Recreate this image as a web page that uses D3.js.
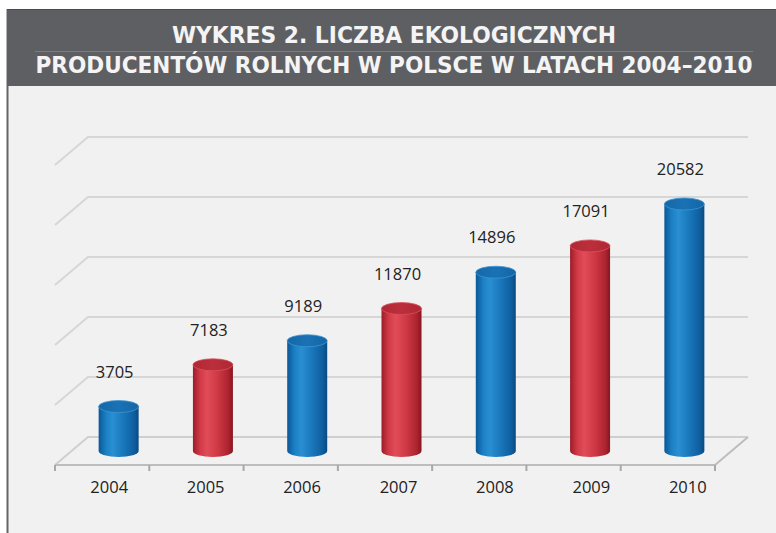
<!DOCTYPE html>
<html>
<head>
<meta charset="utf-8">
<script src="https://cdn.jsdelivr.net/npm/d3@7"></script>
<style>
  body { margin: 0; background: #fff; }
  svg { display: block; }
</style>
</head>
<body>
<div class="chart"></div>
<script>
// data
const years = ["2004", "2005", "2006", "2007", "2008", "2009", "2010"]
const producers = [3705, 7183, 9189, 11870, 14896, 17091, 20582]
const yTicks = [0, 5000, 10000, 15000, 20000, 25000]
const titleLines = ["WYKRES 2. LICZBA EKOLOGICZNYCH", "PRODUCENTÓW ROLNYCH W POLSCE W LATACH 2004–2010"]

const width = 776
const height = 533

const svg = d3.select('.chart')
  .append('svg')
  .attr('width', width)
  .attr('height', height)

// gradients for the cylinders
const defs = svg.append('defs')
function cylGradient(id, stops) {
  const g = defs.append('linearGradient').attr('id', id)
    .attr('x1', 0).attr('x2', 1).attr('y1', 0).attr('y2', 0)
  stops.forEach(s => g.append('stop').attr('offset', s[0]).attr('stop-color', s[1]))
}
cylGradient('blueBody', [[0, '#0a5796'], [0.18, '#1b7fc4'], [0.35, '#2a8fd2'], [0.6, '#1a79bd'], [0.88, '#0f5f9f'], [1, '#0a4a82']])
cylGradient('redBody', [[0, '#9c1c28'], [0.18, '#d23a47'], [0.35, '#e04c58'], [0.6, '#d03a46'], [0.88, '#ad2430'], [1, '#861620']])
cylGradient('blueTop', [[0, '#1468a8'], [0.5, '#1a72b4'], [1, '#1466a6']])
cylGradient('redTop', [[0, '#b02834'], [0.5, '#bb2f3b'], [1, '#ae2833']])

// frame + title banner
svg.append('rect')
  .attr('x', 7).attr('y', 9)
  .attr('width', width - 7).attr('height', height - 9)
  .attr('fill', '#f1f1f1')
svg.append('line')
  .attr('x1', 7.5).attr('x2', 7.5).attr('y1', 9).attr('y2', height)
  .attr('stroke', '#666666').attr('stroke-width', 2)
svg.append('rect')
  .attr('x', 7).attr('y', 9)
  .attr('width', width - 7).attr('height', 77)
  .attr('fill', '#5e5f63')
svg.append('line')
  .attr('x1', 7).attr('x2', width).attr('y1', 9.5).attr('y2', 9.5)
  .attr('stroke', '#4a4b4e').attr('stroke-width', 1)
svg.append('line')
  .attr('x1', 35).attr('x2', 753).attr('y1', 51.5).attr('y2', 51.5)
  .attr('stroke', '#7c7d81').attr('stroke-width', 1)

const titleFont = '"Liberation Sans Narrow", "DejaVu Sans Condensed", "Roboto Condensed", sans-serif'
svg.selectAll('.title')
  .data(titleLines)
  .join('text')
    .attr('class', 'title')
    .attr('x', 394)
    .attr('y', (d, i) => 43 + i * 30)
    .attr('text-anchor', 'middle')
    .attr('fill', '#f4f4f4')
    .attr('font-family', titleFont)
    .attr('font-weight', 'bold')
    .attr('font-size', '23px')
    .attr('textLength', (d, i) => i === 0 ? 444 : 717)
    .attr('lengthAdjust', 'spacingAndGlyphs')
    .text(d => d)

// 3D floor geometry
const x0 = 55, x1 = 715
const yFront = 465
const depthX = 33, depthY = 28
const yBack = yFront - depthY
const yMid = yFront - depthY / 2

const x = d3.scaleBand().domain(years).range([x0, x1])
const y = d3.scaleLinear().domain([0, 25000]).range([0, 300])
const xLabel = d3.scaleBand().domain(years).range([61, 736])

const grid = svg.append('g')
  .attr('fill', 'none')
  .attr('stroke', '#d4d4d4')
  .attr('stroke-width', 2)

grid.selectAll('path')
  .data(yTicks)
  .join('path')
    .attr('stroke', d => d === 0 ? '#cfcfcf' : '#d6d6d6')
    .attr('d', d => {
      const yb = yBack - y(d)
      const yf = yFront - y(d)
      return `M${x0},${yf}L${x0 + depthX},${yb}L${x1 + depthX},${yb}`
    })

// floor front and right edges
svg.append('path')
  .attr('d', `M${x0},${yFront}L${x1},${yFront}L${x1 + depthX},${yBack}`)
  .attr('fill', 'none')
  .attr('stroke', '#bdbdbd')
  .attr('stroke-width', 2)

// ticks
svg.append('g')
  .selectAll('line')
  .data([...years.map(d => x(d)), x1])
  .join('line')
    .attr('x1', d => d).attr('x2', d => d)
    .attr('y1', yFront).attr('y2', yFront + 6)
    .attr('stroke', '#a8a8a8')
    .attr('stroke-width', 2)

const textFont = '"Open Sans", "Noto Sans", sans-serif'

// year labels
svg.append('g')
  .selectAll('text')
  .data(years)
  .join('text')
    .attr('x', d => xLabel(d) + xLabel.bandwidth() / 2)
    .attr('y', 493)
    .attr('text-anchor', 'middle')
    .attr('font-family', textFont)
    .attr('font-size', '16.5px')
    .attr('fill', '#222')
    .text(d => d)

// cylinders
const rx = 20, ry = 6
const cx = d => x(d) + x.bandwidth() / 2 + depthX / 2

const bars = svg.append('g')
  .selectAll('g')
  .data(years.map((yr, i) => ({ year: yr, value: producers[i], kind: i % 2 === 0 ? 'blue' : 'red' })))
  .join('g')

bars.append('path')
  .attr('d', d => {
    const c = cx(d.year)
    const top = yMid - y(d.value)
    return `M${c - rx},${top}L${c - rx},${yMid}A${rx},${ry} 0 0 0 ${c + rx},${yMid}L${c + rx},${top}Z`
  })
  .attr('fill', d => `url(#${d.kind}Body)`)

bars.append('ellipse')
  .attr('cx', d => cx(d.year))
  .attr('cy', d => yMid - y(d.value))
  .attr('rx', rx)
  .attr('ry', ry)
  .attr('fill', d => `url(#${d.kind}Top)`)
  .attr('stroke', d => d.kind === 'blue' ? '#3d93d0' : '#d9505c')
  .attr('stroke-width', 0.8)

// value labels
bars.append('text')
  .attr('x', d => cx(d.year) - 4)
  .attr('y', d => yMid - y(d.value) - 29)
  .attr('text-anchor', 'middle')
  .attr('font-family', textFont)
  .attr('font-size', '16.5px')
  .attr('fill', '#222')
  .text(d => d.value)
</script>
</body>
</html>
